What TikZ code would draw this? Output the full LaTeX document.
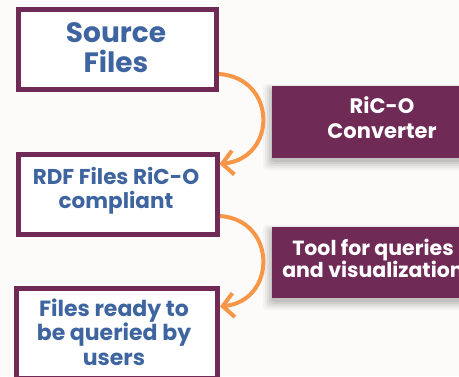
\documentclass[tikz,border=0pt]{standalone}
\usepackage{fontspec}
\setmainfont{Poppins}
\usetikzlibrary{arrows.meta,calc}
\definecolor{bgc}{RGB}{253,251,250}
\definecolor{plum}{RGB}{111,42,85}
\definecolor{txtblue}{RGB}{63,101,160}
\definecolor{arrorange}{RGB}{248,150,72}
\tikzset{
  frame/.style={draw=plum,line width=5pt,fill=white,inner sep=0pt,outer sep=0pt},
  bluetxt/.style={text=txtblue,align=center,inner sep=0pt,font=\bfseries},
  toolbox/.style={fill=plum,inner sep=0pt,outer sep=0pt},
  whitetxt/.style={text=white,align=center,inner sep=0pt,font=\bfseries},
  flow/.style={draw=arrorange,line width=4pt,-{Straight Barb[length=11pt,width=24pt]}}
}
\begin{document}
\begin{tikzpicture}[x=1pt,y=-1pt]
\useasboundingbox[fill=bgc] (0,0) rectangle (459,376);
% shadows of tool boxes
\foreach \d/\o in {9/0.03,7/0.04,5/0.05,3/0.06,1/0.07}{
  \fill[black,opacity=\o,rounded corners=4pt] (272-\d,86-0.6*\d+3) rectangle (470,158+\d+3);
  \fill[black,opacity=\o,rounded corners=4pt] (272-\d,227-0.6*\d+3) rectangle (470,298+\d+3);
}
% tool boxes
\node[toolbox,minimum width=200pt,minimum height=72pt,anchor=north west] (t1) at (272,86) {};
\node[toolbox,minimum width=200pt,minimum height=71pt,anchor=north west] (t2) at (272,227) {};
\node[whitetxt,font=\bfseries\fontsize{21}{25}\selectfont] (t1txt) at (382,118) {RiC-O\\Converter};
\node[whitetxt,font=\bfseries\fontsize{20.5}{22}\selectfont] (t2txt) at (373,258) {Tool for queries\\and visualization};
% frames
\node[frame,minimum width=198pt,minimum height=80pt] (b1) at (117.5,49.5) {};
\node[frame,minimum width=199pt,minimum height=80pt] (b2) at (118,194.5) {};
\node[frame,minimum width=201pt,minimum height=90pt,anchor=north west] (b3) at (16.5,288.5) {};
\node[bluetxt,font=\bfseries\fontsize{28}{30}\selectfont] (b1txt) at (116,48) {Source\\Files};
\node[bluetxt,font=\bfseries\fontsize{21.5}{24}\selectfont] (b2txt) at (116,191) {RDF Files RiC-O\\compliant};
\node[bluetxt,font=\bfseries\fontsize{22}{24.5}\selectfont] (b3txt) at (114,332) {Files ready to\\be queried by\\users};
% arrows
\coordinate (a1s) at ([yshift=-24.5pt,xshift=2.5pt]b1.east);
\coordinate (a1e) at ([yshift=30.5pt,xshift=2pt]b2.east);
\coordinate (a2s) at ([yshift=-21.5pt,xshift=2.5pt]b2.east);
\coordinate (a2e) at ([yshift=-18pt,xshift=2.5pt]b3.north east);
\draw[flow] (a1s) .. controls +(58,4) and +(58,-6) .. (a1e);
\draw[flow] (a2s) .. controls +(57,4) and +(57,-6) .. (a2e);
\end{tikzpicture}
\end{document}
